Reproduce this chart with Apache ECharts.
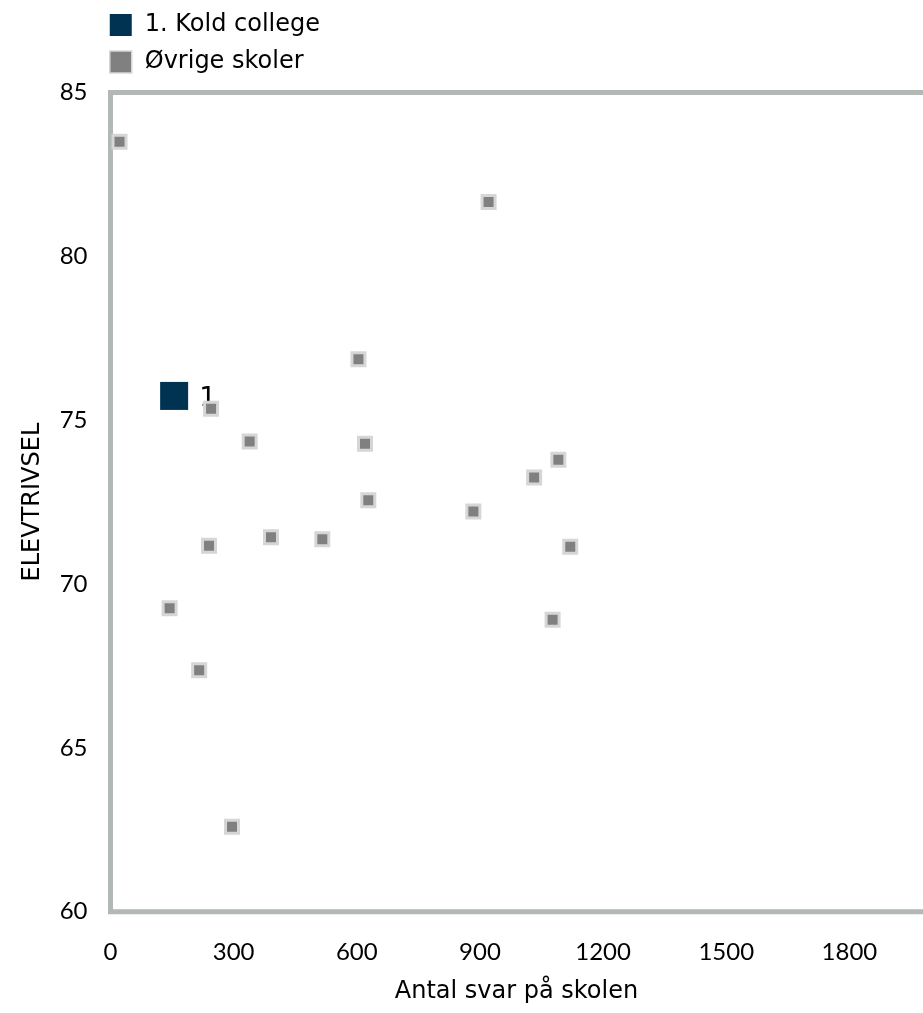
<!DOCTYPE html>
<html>
<head>
<meta charset="utf-8">
<script src="https://cdn.jsdelivr.net/npm/echarts@6/dist/echarts.min.js"></script>
<style>html,body{margin:0;padding:0;background:#fff;}#c{width:923px;height:1013px;}</style>
</head>
<body>
<div id="c"></div>
<script>
const seriesNames = ['1. Kold college', 'Øvrige skoler'];
const koldX = [155];
const koldY = [75.74];
const koldLabels = ['1'];
const otherX = [22, 245, 339, 921, 604, 620, 628, 516, 391, 240, 144, 216, 296, 884, 1032, 1091, 1120, 1077];
const otherY = [83.5, 75.35, 74.35, 81.66, 76.86, 74.28, 72.56, 71.37, 71.43, 71.17, 69.26, 67.37, 62.59, 72.21, 73.25, 73.79, 71.14, 68.91];
const xAxisTitle = 'Antal svar på skolen';
const yAxisTitle = 'ELEVTRIVSEL';

const koldData = koldX.map((x, i) => ({ value: [x, koldY[i]], label: { formatter: koldLabels[i] } }));
const otherData = otherX.map((x, i) => [x, otherY[i]]);

const chart = echarts.init(document.getElementById('c'), null, { renderer: 'canvas' });
chart.setOption({
  animation: false,
  backgroundColor: '#ffffff',
  legend: {
    orient: 'vertical',
    left: 109,
    top: 13,
    padding: 0,
    itemWidth: 22,
    itemHeight: 22,
    itemGap: 13,
    textStyle: { fontFamily: 'DejaVu Sans', fontSize: 24, color: '#000', padding: [0, 0, 0, 8] },
    data: [
      { name: seriesNames[0], icon: 'rect', itemStyle: { color: '#003352', borderWidth: 0 } },
      { name: seriesNames[1], icon: 'rect', itemStyle: { color: '#808080', borderColor: '#d6d6d6', borderWidth: 1.5 } }
    ]
  },
  grid: {
    left: 110.5,
    top: 92.5,
    width: 821,
    bottom: 101.3,
    show: true,
    borderColor: '#b2b8b3',
    borderWidth: 5,
    containLabel: false,
    outerBoundsMode: 'none'
  },
  xAxis: {
    type: 'value',
    min: 0,
    max: 2000,
    interval: 300,
    axisLine: { show: false },
    axisTick: { show: false },
    splitLine: { show: false },
    axisLabel: { showMaxLabel: false, fontFamily: 'Lato', fontSize: 24, color: '#000', margin: 29, formatter: v => String(v) },
    name: xAxisTitle,
    nameLocation: 'middle',
    nameGap: 68,
    nameTextStyle: { fontFamily: 'DejaVu Sans', fontSize: 24, color: '#000', padding: [0, 9, 0, 0] }
  },
  yAxis: {
    type: 'value',
    min: 60,
    max: 85,
    interval: 5,
    axisLine: { show: false },
    axisTick: { show: false },
    splitLine: { show: false },
    axisLabel: { fontFamily: 'Lato', fontSize: 24, color: '#000', margin: 23 },
    name: yAxisTitle,
    nameLocation: 'middle',
    nameGap: 66,
    nameTextStyle: { fontFamily: 'DejaVu Sans', fontSize: 24, color: '#000' }
  },
  series: [
    {
      name: seriesNames[0],
      type: 'scatter',
      symbol: 'rect',
      symbolSize: 28,
      itemStyle: { color: '#003352', opacity: 1 },
      label: { show: true, position: 'right', distance: 11, offset: [0, 3], fontFamily: 'DejaVu Sans', fontSize: 27, color: '#000' },
      data: koldData,
      z: 2
    },
    {
      name: seriesNames[1],
      type: 'scatter',
      symbol: 'rect',
      symbolSize: 13,
      itemStyle: { color: '#808080', borderColor: '#d6d6d6', borderWidth: 3, opacity: 1 },
      data: otherData,
      z: 3
    }
  ]
});
</script>
</body>
</html>
